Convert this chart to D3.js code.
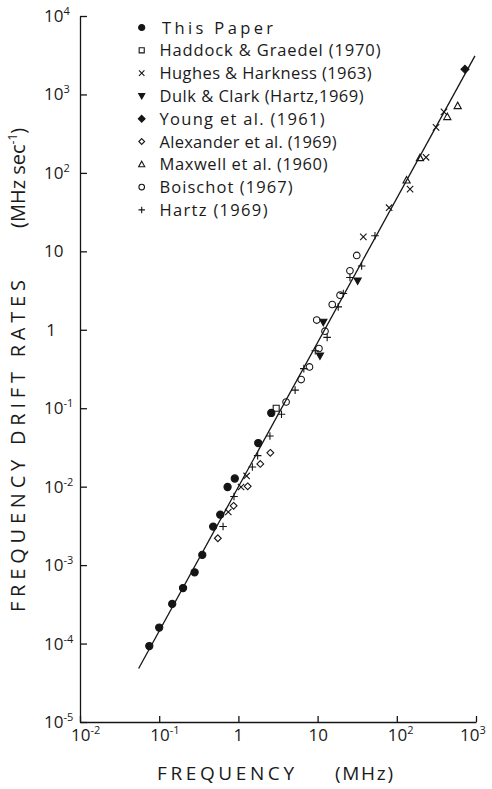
<!DOCTYPE html>
<html lang="en">
<head>
	<title>frequency drift rates</title>
	<meta charset="utf-8" />
	<script src="https://cdnjs.cloudflare.com/ajax/libs/d3/7.8.5/d3.min.js"></script>
	<style>
		body { margin: 0; background: #fff; }
		svg { display: block; font-family: "Open Sans", "DejaVu Sans", sans-serif; font-weight: 400; }
		text { fill: #1a1a1a; }
	</style>
</head>
<body>
	<svg width="492" height="789"></svg>
	<script>
		// tick exponents (powers of ten)
		let xTicks = [-2, -1, 0, 1, 2, 3];
		let yTicks = [4, 3, 2, 1, 0, -1, -2, -3, -4, -5];

		// [frequency MHz, drift rate MHz/s]
		let thisPaper = [[0.075, 9.3e-5], [0.10, 1.6e-4], [0.146, 3.2e-4], [0.20, 5.1e-4], [0.28, 8.1e-4],
			[0.35, 1.35e-3], [0.48, 3.1e-3], [0.59, 4.4e-3], [0.73, 9.9e-3], [0.90, 0.0127], [1.78, 0.036], [2.6, 0.087]];
		let haddock = [[3.0, 0.10]];
		let hughes = [[0.745, 4.75e-3], [1.08, 9.9e-3], [1.27, 0.0137], [37.8, 15.3], [80, 36], [147, 62],
			[234, 158], [313, 380], [394, 600]];
		let dulk = [[10.7, 0.465], [11.8, 1.25], [32, 4.2]];
		let young = [[726, 2090]];
		let alexander = [[0.55, 2.2e-3], [0.87, 5.7e-3], [1.31, 0.0101], [1.89, 0.0195], [2.53, 0.027]];
		let maxwell = [[133, 81], [196, 156], [434, 520], [587, 718]];
		let boischot = [[4.0, 0.12], [6.2, 0.232], [7.9, 0.336], [10.4, 0.577], [12.4, 0.96], [9.75, 1.33],
			[15.3, 2.1], [19.2, 2.76], [25.6, 5.64], [31.2, 8.87]];
		let hartz = [[0.64, 3.1e-3], [0.88, 7.5e-3], [1.5, 0.0178], [1.75, 0.0249], [2.5, 0.0443], [3.5, 0.0838],
			[5.2, 0.17], [6.7, 0.32], [9.35, 0.54], [13.2, 0.80], [18.2, 1.96], [21.1, 2.9], [25.6, 4.64],
			[36, 6.5], [53, 15.8]];
		// fitted line end points
		let fitLine = [[0.055, 4.8e-5], [970, 3100]];

		let legendNames = ["This  Paper", "Haddock & Graedel  (1970)", "Hughes & Harkness  (1963)",
			"Dulk & Clark  (Hartz,1969)", "Young  et  al.  (1961)", "Alexander et al.  (1969)",
			"Maxwell et al.  (1960)", "Boischot  (1967)", "Hartz  (1969)"];

		let series = [
			{ name: legendNames[0], data: thisPaper, marker: 'dot' },
			{ name: legendNames[1], data: haddock, marker: 'square' },
			{ name: legendNames[2], data: hughes, marker: 'times' },
			{ name: legendNames[3], data: dulk, marker: 'tridown' },
			{ name: legendNames[4], data: young, marker: 'diamondFill' },
			{ name: legendNames[5], data: alexander, marker: 'diamond' },
			{ name: legendNames[6], data: maxwell, marker: 'triangle' },
			{ name: legendNames[7], data: boischot, marker: 'circle' },
			{ name: legendNames[8], data: hartz, marker: 'plus' }
		];
		// legend text widths in the original
		let legendWidths = [111, 221, 212, 204, 165, 177, 168, 133, 108];

		let svg = d3.select('svg');
		let ink = '#151515';

		let x = d3.scaleLog().domain([1e-2, 1e3]).range([80, 476]);
		let y = d3.scaleLog().domain([1e-5, 1e4]).range([722, 16]);

		// axes, ticks drawn inward
		let yAxis = d3.axisLeft(y)
			.tickValues(yTicks.map(e => Math.pow(10, e)))
			.tickSizeInner(-7).tickSizeOuter(0).tickFormat('');
		let xAxis = d3.axisBottom(x)
			.tickValues(xTicks.map(e => Math.pow(10, e)))
			.tickSizeInner(-6).tickSizeOuter(0).tickFormat('');

		svg.append('g').attr('transform', 'translate(80,0)').call(yAxis);
		svg.append('g').attr('transform', 'translate(0,722)').call(xAxis);
		svg.selectAll('.domain, .tick line').attr('stroke', ink).attr('stroke-width', 1.3);

		function powLabel(sel, e) {
			if (e === 0) { sel.text('1'); return; }
			sel.append('tspan').text('10');
			if (e !== 1) {
				sel.append('tspan').attr('dy', -7).attr('font-size', 11).text(e);
			}
		}

		yTicks.forEach(e => {
			let t = svg.append('text')
				.attr('x', e === 0 ? 51 : 44)
				.attr('y', y(Math.pow(10, e)) + 6)
				.attr('font-size', 17)
				.attr('text-anchor', e === 0 ? 'middle' : 'start');
			powLabel(t, e);
		});

		xTicks.forEach(e => {
			let cx = x(Math.pow(10, e));
			let t = svg.append('text')
				.attr('x', e === 3 ? cx - 16 : (e === 0 ? cx : cx - 9))
				.attr('y', 741)
				.attr('font-size', 17)
				.attr('text-anchor', e === 0 ? 'middle' : 'start');
			powLabel(t, e);
		});

		// axis titles
		svg.append('text').attr('x', 157).attr('y', 780).attr('font-size', 19)
			.attr('textLength', 137).attr('lengthAdjust', 'spacing').text('FREQUENCY');
		svg.append('text').attr('x', 335).attr('y', 780).attr('font-size', 19)
			.attr('textLength', 58).attr('lengthAdjust', 'spacing').text('(MHz)');

		let yt = svg.append('g').attr('transform', 'translate(25,0) rotate(-90)');
		yt.append('text').attr('x', -612).attr('y', 0).attr('font-size', 20)
			.attr('textLength', 332).attr('lengthAdjust', 'spacing').text('FREQUENCY  DRIFT  RATES');
		let unit = yt.append('text').attr('x', -228).attr('y', 0).attr('font-size', 20);
		unit.append('tspan').text('(MHz sec');
		unit.append('tspan').attr('dy', -8).attr('font-size', 12).text('-1');
		unit.append('tspan').attr('dy', 8).text(')');

		// fitted line
		svg.append('path')
			.attr('d', d3.line().x(d => x(d[0])).y(d => y(d[1]))(fitLine))
			.attr('fill', 'none').attr('stroke', ink).attr('stroke-width', 1.3);

		// marker shapes
		let shapes = {
			dot: { h: 3.6, fill: true, d: h => circ(h) },
			square: { h: 3, fill: false, d: h => `M${-h},${-h}H${h}V${h}H${-h}Z` },
			times: { h: 3.2, fill: false, d: h => `M${-h},${-h}L${h},${h}M${-h},${h}L${h},${-h}` },
			tridown: { h: 3.6, fill: true, d: h => `M0,${h}L${h},${-h * 0.8}L${-h},${-h * 0.8}Z` },
			diamondFill: { h: 4, fill: true, d: h => `M0,${-h}L${h},0L0,${h}L${-h},0Z` },
			diamond: { h: 3.4, fill: false, d: h => `M0,${-h}L${h},0L0,${h}L${-h},0Z` },
			triangle: { h: 3.6, fill: false, d: h => `M0,${-h}L${h},${h * 0.8}L${-h},${h * 0.8}Z` },
			circle: { h: 3.3, fill: false, d: h => circ(h) },
			plus: { h: 3.8, fill: false, d: h => `M${-h},0H${h}M0,${-h}V${h}` }
		};
		function circ(r) {
			return `M${r},0A${r},${r} 0 1,1 ${-r},0A${r},${r} 0 1,1 ${r},0Z`;
		}
		function drawMarker(g, type, scale) {
			let s = shapes[type];
			g.append('path')
				.attr('d', s.d(s.h * scale))
				.attr('fill', s.fill ? ink : '#fff')
				.attr('fill-opacity', s.fill ? 1 : 0)
				.attr('stroke', ink)
				.attr('stroke-width', 1.1);
		}

		series.forEach(sr => {
			sr.data.forEach(d => {
				let g = svg.append('g').attr('transform', `translate(${x(d[0])},${y(d[1])})`);
				drawMarker(g, sr.marker, 1);
			});
		});

		// legend
		let legend = svg.append('g').attr('transform', 'translate(0,27.5)');
		series.forEach((sr, i) => {
			let row = legend.append('g').attr('transform', `translate(0,${i * 22.8})`);
			let m = row.append('g').attr('transform', 'translate(141.7,0)');
			drawMarker(m, sr.marker, 0.85);
			row.append('text')
				.attr('x', i === 0 ? 162 : 159.5)
				.attr('y', 6)
				.attr('font-size', 16.5)
				.attr('textLength', legendWidths[i])
				.attr('lengthAdjust', 'spacing')
				.text(sr.name);
		});
	</script>
</body>
</html>
